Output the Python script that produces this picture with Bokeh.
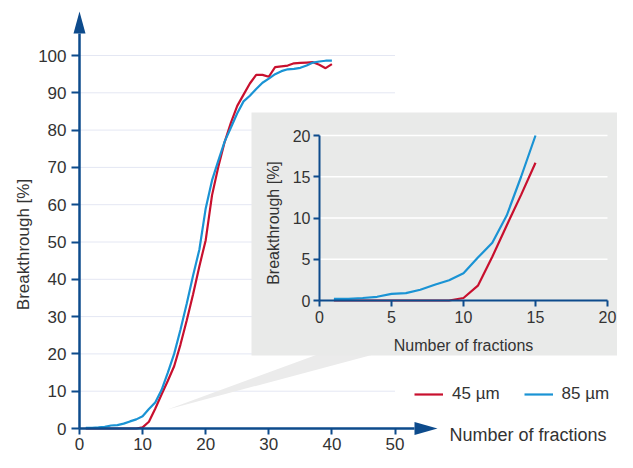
import math
from bokeh.plotting import figure
from bokeh.models import Range1d, LinearAxis, FixedTicker, Label, Legend, LegendItem
from bokeh.embed import file_html
from bokeh.resources import INLINE

# ---------------- data ----------------
fractions = list(range(1, 41))
bt_45um = [0, 0, 0, 0, 0, 0, 0, 0, 0, 0.3,
           1.8, 5.3, 9.1, 12.8, 16.7, 22.5, 29.0, 36.0, 43.5, 50.5,
           62.5, 70.2, 76.8, 82.0, 86.5, 89.5, 92.5, 94.8, 94.8, 94.3,
           96.9, 97.1, 97.3, 97.9, 98.0, 98.1, 98.2, 97.5, 96.6, 97.7]
bt_85um = [0.2, 0.2, 0.3, 0.45, 0.8, 0.9, 1.3, 1.9, 2.45, 3.3,
           5.2, 7.0, 10.3, 15.0, 20.0, 26.5, 33.5, 41.0, 48.0, 59.0,
           66.5, 71.8, 76.9, 80.7, 84.5, 87.7, 89.2, 91.0, 92.7, 93.8,
           95.0, 95.8, 96.3, 96.4, 96.7, 97.3, 98.1, 98.4, 98.6, 98.6]
series_labels = ["45 µm", "85 µm"]
main_x_ticks = [0, 10, 20, 30, 40, 50]
main_y_ticks = [0, 10, 20, 30, 40, 50, 60, 70, 80, 90, 100]
inset_max_fraction = 15
inset_ticks = [0, 5, 10, 15, 20]
x_title = "Number of fractions"
y_title = "Breakthrough [%]"

# ---------------- styling / layout ----------------
RED = "#c8102e"
BLUE = "#1a93d4"
AX = "#0d4b8c"
TXT = "#333333"
GRID = "#e4e7f3"
FONT = "Liberation Sans"

W, H = 617, 452
MX0, MSX = 79, 6.31      # main: pixel of x=0, px per unit
MY0, MSY = 428, 3.73     # main: pixel of y=0, px per unit
IX0, ISX = 319, 14.4     # inset
IY0, ISY = 300, 8.25

def mx(px): return (px - MX0) / MSX
def my(py): return (MY0 - py) / MSY
def ix(px): return (px - IX0) / ISX
def iy(py): return (IY0 - py) / ISY

p = figure(width=W, height=H, output_backend="svg", toolbar_location=None,
           x_range=Range1d(mx(0), mx(W)), y_range=Range1d(my(H), my(0)),
           x_axis_type=None, y_axis_type=None, min_border=0,
           outline_line_color=None, background_fill_color="white",
           border_fill_color="white")
p.extra_x_ranges = {"ix": Range1d(ix(0), ix(W))}
p.extra_y_ranges = {"iy": Range1d(iy(H), iy(0))}

# main grid
gy = main_y_ticks[1:]
p.segment(x0=0, x1=main_x_ticks[-1], y0=gy, y1=gy, line_color=GRID, line_width=1)

# zoom wedge and inset panel
p.patch(x=[mx(167), mx(317), mx(373)], y=[my(409), my(354), my(354)],
        fill_color="#ebebeb", line_color=None)
p.quad(left=ix(251), right=ix(W + 20), top=iy(112), bottom=iy(355),
       x_range_name="ix", y_range_name="iy", fill_color="#e9eae9", line_color=None)
igy = inset_ticks[1:]
p.segment(x0=0, x1=inset_ticks[-1], y0=igy, y1=igy, line_color="white", line_width=1.5,
          x_range_name="ix", y_range_name="iy")

# main curves
r45 = p.line(fractions, bt_45um, line_color=RED, line_width=2.2)
r85 = p.line(fractions, bt_85um, line_color=BLUE, line_width=2.2)

# inset curves
n = inset_max_fraction
p.line(fractions[:n], bt_45um[:n], line_color=RED, line_width=2.2,
       x_range_name="ix", y_range_name="iy")
p.line(fractions[:n], bt_85um[:n], line_color=BLUE, line_width=2.2,
       x_range_name="ix", y_range_name="iy")

def style(ax, fs, lw, tick_out, standoff):
    ax.axis_line_color = AX
    ax.axis_line_width = lw
    ax.major_tick_line_color = AX
    ax.major_tick_line_width = 2
    ax.major_tick_in = 0
    ax.major_tick_out = tick_out
    ax.minor_tick_line_color = None
    ax.major_label_text_font = FONT
    ax.major_label_text_color = TXT
    ax.major_label_text_font_size = fs
    ax.major_label_standoff = standoff

# main axes (with room for arrows)
xa = LinearAxis(fixed_location=0, bounds=(0, mx(414)), ticker=FixedTicker(ticks=main_x_ticks))
style(xa, "17px", 2.5, 6, 3)
p.add_layout(xa, "below")
ya = LinearAxis(fixed_location=0, bounds=(0, my(33)), ticker=FixedTicker(ticks=main_y_ticks))
style(ya, "17px", 2.5, 8, 5)
p.add_layout(ya, "left")

# arrow heads
p.patch(x=[mx(437), mx(414), mx(414)], y=[0, my(MY0 - 6.5), my(MY0 + 6.5)],
        fill_color=AX, line_color=None)
p.patch(x=[0, mx(MX0 - 6), mx(MX0 + 6)], y=[my(11), my(33), my(33)],
        fill_color=AX, line_color=None)

# inset axes
ixa = LinearAxis(fixed_location=0, bounds=(0, 20), ticker=FixedTicker(ticks=inset_ticks),
                 x_range_name="ix", y_range_name="iy")
style(ixa, "16px", 2, 6, 4)
p.add_layout(ixa, "below")
iya = LinearAxis(fixed_location=0, bounds=(0, 20), ticker=FixedTicker(ticks=inset_ticks),
                 x_range_name="ix", y_range_name="iy")
style(iya, "16px", 2, 6, 3)
p.add_layout(iya, "left")

# titles
p.add_layout(Label(x=mx(23), y=my(244), text=y_title, angle=math.pi / 2,
                   text_align="center", text_baseline="middle",
                   text_font=FONT, text_font_size="17px", text_color=TXT))
p.add_layout(Label(x=mx(449), y=my(434.5), text=x_title,
                   text_align="left", text_baseline="alphabetic",
                   text_font=FONT, text_font_size="18px", text_color=TXT))
p.add_layout(Label(x=ix(273), y=iy(222.5), text=y_title, angle=math.pi / 2,
                   x_range_name="ix", y_range_name="iy",
                   text_align="center", text_baseline="middle",
                   text_font=FONT, text_font_size="16px", text_color=TXT))
p.add_layout(Label(x=10, y=iy(344.5), text=x_title,
                   x_range_name="ix", y_range_name="iy",
                   text_align="center", text_baseline="alphabetic",
                   text_font=FONT, text_font_size="16px", text_color=TXT))

legend = Legend(items=[LegendItem(label=series_labels[0], renderers=[r45]),
                       LegendItem(label=series_labels[1], renderers=[r85])],
                orientation="horizontal", location=(414, 48),
                glyph_width=29, glyph_height=20, label_standoff=9, spacing=24,
                padding=0, margin=0, background_fill_alpha=0, border_line_alpha=0,
                label_text_font=FONT, label_text_font_size="17px", label_text_color=TXT)
p.add_layout(legend)

open("out.html", "w").write(file_html(p, INLINE))
